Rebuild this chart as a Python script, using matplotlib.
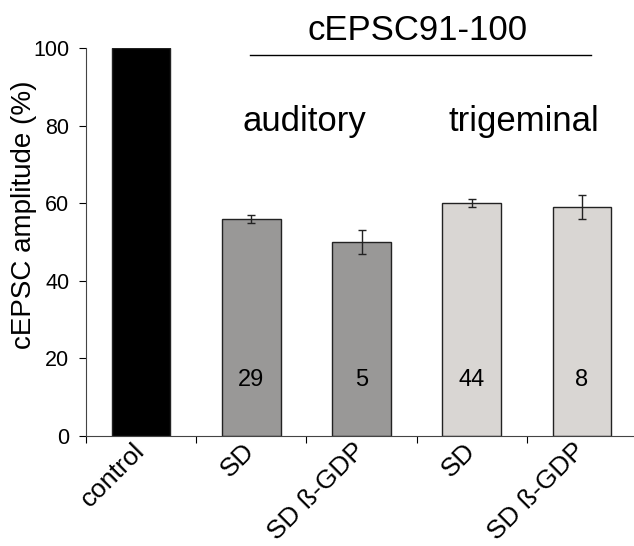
import matplotlib
matplotlib.use("Agg")
import matplotlib.pyplot as plt
import numpy as np

plt.rcParams['font.family'] = ['Liberation Sans', 'DejaVu Sans']

# ---------------- data ----------------
labels = ['control', 'SD', 'SD ß-GDP', 'SD', 'SD ß-GDP']
values = [100, 56, 50, 60, 59]
errors = [0, 1, 3, 1, 3]
n_cells = ['', '29', '5', '44', '8']
colors = ['#000000', '#999897', '#999897', '#d9d6d3', '#d9d6d3']
groups = ['auditory', 'trigeminal']
title_txt = 'cEPSC91-100'
# --------------------------------------

W, H = 634, 546
fig = plt.figure(figsize=(W / 100, H / 100), dpi=100)
# axis runs a bit past the right edge, like the original
ax = fig.add_axes([86 / W, 1 - 436 / H, 551 / W, 388 / H])

x = np.arange(len(values)) + 0.5
ax.bar(x, values, width=0.53, color=colors, edgecolor='#222222', linewidth=1.0)
ax.errorbar(x[1:], values[1:], yerr=errors[1:], fmt='none', ecolor='#222222',
            elinewidth=1.0, capsize=3, capthick=1.0)

for xi, t in zip(x, n_cells):
    if t:
        ax.text(xi, 12.9, t, ha='center', va='baseline', fontsize=17)

ax.set_xlim(0, len(values))
ax.set_ylim(0, 100)
ax.set_yticks([0, 20, 40, 60, 80, 100])
ax.tick_params(axis='y', labelsize=15.5, length=5, width=0.8, direction='out', pad=7)

# ticks between the bars, labels under the bars
ax.set_xticks(np.arange(len(values) + 1))
ax.set_xticklabels([])
ax.tick_params(axis='x', which='major', length=5, width=0.8, direction='out')
ax.set_xticks(x - 0.08, minor=True)
ax.set_xticklabels(labels, minor=True, rotation=45, ha='right',
                   rotation_mode='anchor', fontsize=19)
ax.tick_params(axis='x', which='minor', length=0, pad=2)

ax.set_ylabel('cEPSC amplitude (%)', fontsize=20)
ax.yaxis.set_label_coords(-0.089, 0.5696)

for side in ['top', 'right']:
    ax.spines[side].set_visible(False)
for side in ['left', 'bottom']:
    ax.spines[side].set_color('#444444')
    ax.spines[side].set_linewidth(0.8)

# group annotations
fig.text(418 / W, 1 - 40 / H, title_txt, ha='center', va='baseline', fontsize=25)
fig.add_artist(plt.Line2D([250 / W, 591 / W], [1 - 55 / H, 1 - 55 / H],
                          color='black', linewidth=1.0))
fig.text(304 / W, 1 - 131 / H, groups[0], ha='center', va='baseline', fontsize=25)
fig.text(524 / W, 1 - 131 / H, groups[1], ha='center', va='baseline', fontsize=25)

fig.savefig('out.png', dpi=100)
